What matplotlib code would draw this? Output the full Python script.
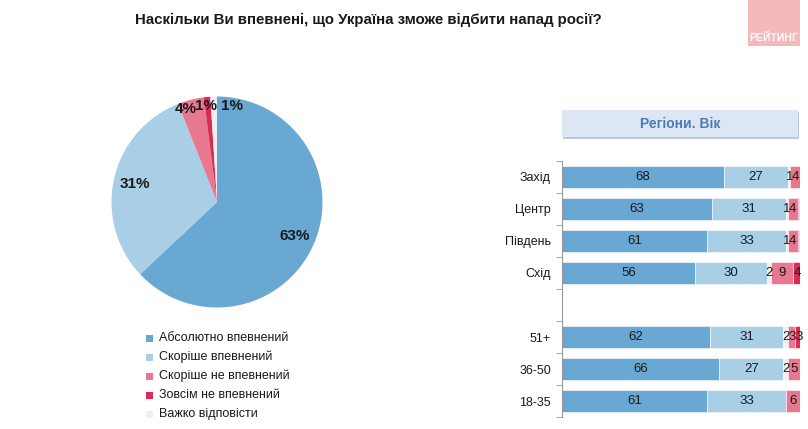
import numpy as np
import matplotlib.pyplot as plt
from matplotlib.patches import FancyBboxPatch, Rectangle

plt.rcParams['font.family'] = ['Liberation Sans', 'DejaVu Sans']

# дані
answers = ['Абсолютно впевнений', 'Скоріше впевнений', 'Скоріше не впевнений',
           'Зовсім не впевнений', 'Важко відповісти']
colors = ['#68a8d3', '#a9cfe7', '#e8788f', '#dc2a55', '#f0f0f0']
pie_values = [63, 31, 4, 1, 1]

groups = ['Захід', 'Центр', 'Південь', 'Схід', '', '51+', '36-50', '18-35']
absolute = [68, 63, 61, 56, 0, 62, 66, 61]
rather = [27, 31, 33, 30, 0, 31, 27, 33]
hard = [1, 1, 1, 2, 0, 2, 2, 0]
rather_not = [4, 4, 4, 9, 0, 3, 5, 6]
not_at_all = [0, 0.6, 0.6, 4, 0, 3, 0, 0]

fig = plt.figure(figsize=(8.08, 4.29), dpi=100)
W, H = 808, 429

fig.text(368 / W, 1 - 20 / H, 'Наскільки Ви впевнені, що Україна зможе відбити напад росії?',
         ha='center', va='center', fontsize=10.8, fontweight='bold', color='#1a1a1a')

# логотип
fig.patches.append(Rectangle((748 / W, 1 - 46 / H), 52 / W, 46 / H,
                             transform=fig.transFigure, facecolor='#f3b9bb', edgecolor='none'))
fig.text(774 / W, 1 - 38 / H, 'РЕЙТИНГ', ha='center', va='center', fontsize=7.5,
         fontweight='bold', color='white')

# кругова діаграма
cx, cy, r = 217, 202, 105.5
ax_pie = fig.add_axes([(cx - r) / W, 1 - (cy + r) / H, 2 * r / W, 2 * r / H])
wedges, texts, autotexts = ax_pie.pie(pie_values, colors=colors, startangle=90,
                                      counterclock=False, autopct='%d%%', pctdistance=0.8,
                                      textprops=dict(fontsize=11, fontweight='bold', color='#1a1a1a'))
ax_pie.set_xlim(-1, 1)
ax_pie.set_ylim(-1, 1)
ax_pie.set_aspect('equal')
for t, v in zip(autotexts, pie_values):
    t.set_text('%d%%' % v)
# маленькі сектори - підписи біля краю
autotexts[2].set_position((-0.3, 0.88))
autotexts[3].set_position((-0.1, 0.91))
autotexts[4].set_position((0.14, 0.91))

# легенда
for i, (name, c) in enumerate(zip(answers, colors)):
    y = 1 - (338 + 19 * i) / H
    fig.patches.append(Rectangle((146 / W, y - 3.5 / H), 7 / W, 7 / H,
                                 transform=fig.transFigure, facecolor=c, edgecolor='none'))
    fig.text(159 / W, y, name, ha='left', va='center', fontsize=9, color='#1a1a1a')

# заголовок блоку
fig.patches.append(FancyBboxPatch((563 / W, 1 - 139 / H), 236 / W, 27 / H,
                                  boxstyle='square,pad=0', transform=fig.transFigure,
                                  facecolor='#b9c9dc', edgecolor='none'))
fig.patches.append(FancyBboxPatch((562 / W, 1 - 137 / H), 236 / W, 27 / H,
                                  boxstyle='square,pad=0', transform=fig.transFigure,
                                  facecolor='#dde7f3', edgecolor='none'))
fig.text(680 / W, 1 - 124 / H, 'Регіони. Вік', ha='center', va='center', fontsize=10,
         fontweight='bold', color='#4a7bb5')

# стовпчики
ax = fig.add_axes([562 / W, 1 - 417 / H, 238 / W, 256 / H])
y = np.arange(len(groups))
series = [absolute, rather, hard, rather_not, not_at_all]
bar_colors = [colors[0], colors[1], colors[4], colors[2], colors[3]]
left = np.zeros(len(groups))
for vals, c in zip(series, bar_colors):
    vals = np.array(vals, dtype=float)
    ax.barh(y, vals, left=left, height=0.7, color=c, edgecolor='white', linewidth=0.4)
    for yi, l, v in zip(y, left, vals):
        if v >= 1:
            ax.text(l + v / 2, yi, '%d' % v, ha='center', va='center', fontsize=9.5, color='#1a1a1a')
    left += vals

ax.set_xlim(0, 100)
ax.set_ylim(len(groups) - 0.5, -0.5)
ax.set_yticks(y)
ax.set_yticklabels(groups, fontsize=9, color='#1a1a1a')
ax.tick_params(axis='y', which='major', length=0, pad=8)
ax.set_yticks(np.arange(len(groups) + 1) - 0.5, minor=True)
ax.tick_params(axis='y', which='minor', length=4, color='#999999')
ax.set_xticks([])
for s in ['top', 'right', 'bottom']:
    ax.spines[s].set_visible(False)
ax.spines['left'].set_color('#999999')

plt.savefig('out.png', dpi=100)
